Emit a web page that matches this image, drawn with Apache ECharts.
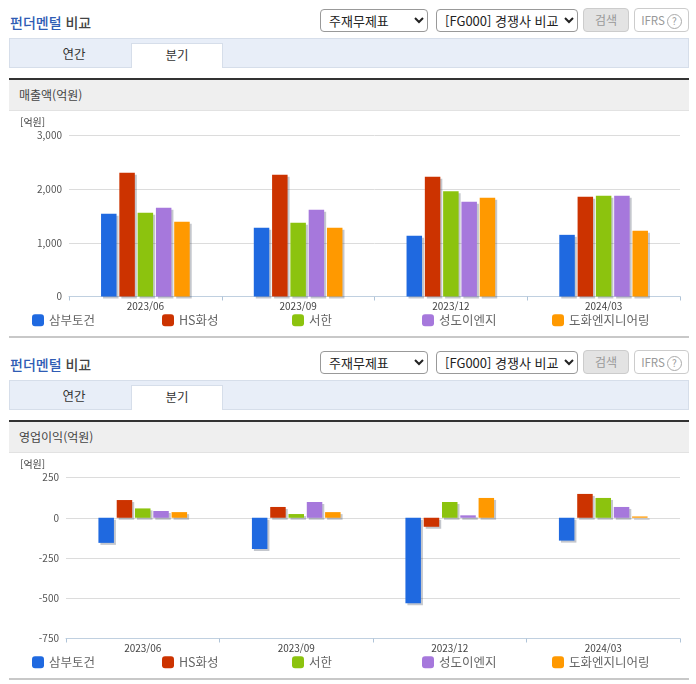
<!DOCTYPE html>
<html lang="ko">
<head>
<meta charset="utf-8">
<title>펀더멘털 비교</title>
<script src="https://cdn.jsdelivr.net/npm/echarts@6/dist/echarts.min.js"></script>
<style>
  html, body { margin: 0; padding: 0; background: #fff; }
  body { width: 696px; height: 684px; position: relative; overflow: hidden; font-family: "Noto Sans CJK KR", sans-serif; }
  .sec { position: absolute; left: 0; width: 696px; height: 342px; }
  .sec > * { position: absolute; box-sizing: border-box; }
  .ttl { left: 10px; top: 12px; font-size: 14px; line-height: 20px; font-weight: 500; color: #444; white-space: nowrap; }
  .ttl b { font-weight: 500; color: #2f5cb4; }
  select { top: 9px; height: 23px; font: 13px "Noto Sans CJK KR", sans-serif; color: #222; background: #fff; border: 1px solid #999; border-radius: 4px; padding: 0 0 0 4px; }
  .btn { top: 8px; height: 24px; border-radius: 4px; font-size: 12px; line-height: 22px; text-align: center; color: #999; }
  .search { left: 583px; width: 46px; background: #e3e3e3; border: 1px solid #ccc; }
  .ifrs { left: 634px; width: 55px; background: #fff; border: 1px solid #ccc; font-size: 11.5px; }
  .ifrs i { display: inline-block; width: 13px; height: 13px; line-height: 12px; border: 1px solid #aaa; border-radius: 50%; font-style: normal; font-size: 10px; margin-left: 2px; }
  .tabs { left: 9px; top: 38px; width: 680px; height: 30px; background: #e8eef8; border: 1px solid #d6deea; }
  .tab { top: 43px; height: 25px; width: 92px; font-size: 12.5px; line-height: 22px; text-align: center; color: #333; }
  .tab.y { left: 28px; top: 43px; width: 92px; }
  .tab.q { left: 131px; background: #fff; border: 1px solid #d6deea; border-bottom: 0; }
  .head { left: 9px; top: 78px; width: 680px; height: 33px; background: #efefef; border-top: 2px solid #333; border-bottom: 1px solid #e2e2e2; font-size: 12px; line-height: 30px; padding-left: 10px; color: #444; }
  .foot { left: 9px; top: 336px; width: 680px; height: 2px; background: #c8c8c8; }
  .chart { left: 0; top: 112px; width: 696px; height: 224px; }
</style>
</head>
<body>
<div class="sec" style="top:0">
  <div class="ttl"><b>펀더멘털</b> 비교</div>
  <select style="left:320px;width:108px"><option>주재무제표</option></select>
  <select style="left:436px;width:142px"><option>[FG000] 경쟁사 비교</option></select>
  <div class="btn search">검색</div>
  <div class="btn ifrs">IFRS<i>?</i></div>
  <div class="tabs"></div>
  <div class="tab y">연간</div>
  <div class="tab q">분기</div>
  <div class="head">매출액(억원)</div>
  <div class="chart" id="salesChart"></div>
  <div class="foot"></div>
</div>
<div class="sec" style="top:342px">
  <div class="ttl"><b>펀더멘털</b> 비교</div>
  <select style="left:320px;width:108px"><option>주재무제표</option></select>
  <select style="left:436px;width:142px"><option>[FG000] 경쟁사 비교</option></select>
  <div class="btn search">검색</div>
  <div class="btn ifrs">IFRS<i>?</i></div>
  <div class="tabs"></div>
  <div class="tab y">연간</div>
  <div class="tab q">분기</div>
  <div class="head">영업이익(억원)</div>
  <div class="chart" id="profitChart"></div>
  <div class="foot"></div>
</div>
<script>
const periods = ['2023/06', '2023/09', '2023/12', '2024/03'];
const companies = ['삼부토건', 'HS화성', '서한', '성도이엔지', '도화엔지니어링'];
const colors = ['#1f69e0', '#cc3300', '#8cc30e', '#a678dc', '#ff9900'];

// 매출액
const salesSambu = [1540, 1280, 1130, 1149];
const salesHs = [2304, 2267, 2230, 1857];
const salesSeohan = [1559, 1373, 1963, 1876];
const salesSungdo = [1652, 1615, 1764, 1876];
const salesDohwa = [1391, 1280, 1838, 1224];

// 영업이익
const profitSambu = [-156, -194, -531, -142];
const profitHs = [110, 67, -56, 148];
const profitSeohan = [58, 23, 98, 123];
const profitSungdo = [42, 98, 15, 67];
const profitDohwa = [35, 35, 123, 8];

function buildOption(rows, gridLeft, min, max, step) {
  return {
    animation: false,
    title: { text: '[억원]', left: 20, top: 5, padding: 0, textStyle: { fontSize: 10, fontWeight: 'normal', color: '#444', fontFamily: 'Noto Sans CJK KR' } },
    grid: { left: gridLeft, right: 16, top: 23.5, height: 161 },
    legend: companies.map((name, i) => ({
      data: [name],
      left: 32 + 130 * i,
      top: 202,
      padding: 0,
      selectedMode: false,
      icon: 'roundRect',
      itemWidth: 12,
      itemHeight: 12,
      itemStyle: { shadowColor: 'transparent', shadowOffsetX: 0, shadowOffsetY: 0 },
      textStyle: { fontSize: 12.5, color: '#666', fontFamily: 'Noto Sans CJK KR' }
    })),
    xAxis: {
      type: 'category',
      data: periods,
      axisLine: { onZero: false, lineStyle: { color: '#c0d0e0' } },
      axisTick: { show: true, length: 4, lineStyle: { color: '#b0c4d8' } },
      axisLabel: { margin: 5, fontSize: 10, color: '#444', fontFamily: 'Noto Sans CJK KR' }
    },
    yAxis: {
      type: 'value',
      min: min,
      max: max,
      interval: step,
      axisLine: { show: false },
      axisTick: { show: false },
      splitLine: { lineStyle: { color: '#dcdcdc' } },
      axisLabel: {
        margin: 7,
        fontSize: 10,
        color: '#555',
        fontFamily: 'Noto Sans CJK KR',
        formatter: v => v.toLocaleString('en-US')
      }
    },
    series: rows.map((values, i) => ({
      name: companies[i],
      type: 'bar',
      data: values,
      barWidth: 15.5,
      barGap: '18%',
      itemStyle: { color: colors[i], shadowColor: 'rgba(60,70,90,0.3)', shadowOffsetX: 2, shadowOffsetY: 2 }
    }))
  };
}

echarts.init(document.getElementById('salesChart'))
  .setOption(buildOption([salesSambu, salesHs, salesSeohan, salesSungdo, salesDohwa], 69, 0, 3000, 1000));
echarts.init(document.getElementById('profitChart'))
  .setOption(buildOption([profitSambu, profitHs, profitSeohan, profitSungdo, profitDohwa], 66, -750, 250, 250));
</script>
</body>
</html>
